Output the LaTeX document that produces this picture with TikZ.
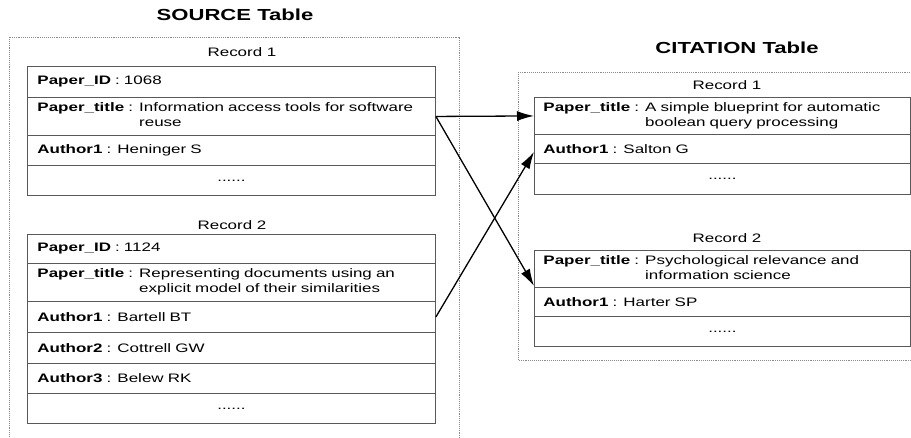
\documentclass[tikz,border=0pt]{standalone}
\usepackage{fontspec}
\setmainfont[FakeStretch=1.38]{Liberation Sans}
\usetikzlibrary{arrows.meta}
\tikzset{
 outerbox/.style={draw=black!45, densely dotted, line width=0.9pt},
 rowbox/.style={draw=black!65, line width=0.9pt, anchor=north west, inner xsep=10pt, inner ysep=0pt, align=left, font=\fontsize{12.3}{15}\selectfont},
 srow/.style={rowbox, text width=388pt},
 crow/.style={rowbox, inner xsep=9pt, text width=358pt},
 lbl/.style={font=\fontsize{12.3}{15}\selectfont},
 ttl/.style={font=\fontsize{16}{19}\selectfont\bfseries},
 link/.style={-{Latex[length=17pt,width=10pt]}, line width=1.3pt}
}
\newcommand{\twoline}[2]{\begin{tabular}[t]{@{}l@{}}#1\\#2\end{tabular}}
\begin{document}
\begin{tikzpicture}[x=1pt,y=-1pt]
\useasboundingbox (0,0) rectangle (911,437);
\clip (0,0) rectangle (911,437);
\fill[white] (0,0) rectangle (911,437);
% titles
\node[ttl] (srctitle) at (235,15) {SOURCE Table};
\node[ttl] (cittitle) at (737,48) {CITATION Table};
% outer boxes
\draw[outerbox] (9,37) rectangle (459,460);
\draw[outerbox] (518,72) rectangle (940,360);
% source record 1
\node[lbl] (sr1) at (242,52) {Record 1};
\node[srow, minimum height=31pt] (s1id) at (27,66) {\textbf{Paper\_ID} : 1068};
\node[srow, minimum height=38pt] (s1title) at (27,97) {\textbf{Paper\_title} : \twoline{Information access tools for software}{reuse}};
\node[srow, minimum height=30pt] (s1a1) at (27,135) {\textbf{Author1} : Heninger S};
\node[srow, minimum height=30pt, align=center] (s1more) at (27,165) {......};
% source record 2
\node[lbl] (sr2) at (232,225) {Record 2};
\node[srow, minimum height=29pt] (s2id) at (27,234) {\textbf{Paper\_ID} : 1124};
\node[srow, minimum height=38pt] (s2title) at (27,263) {\textbf{Paper\_title} : \twoline{Representing documents using an}{explicit model of their similarities}};
\node[srow, minimum height=31pt] (s2a1) at (27,301) {\textbf{Author1} : Bartell BT};
\node[srow, minimum height=31pt] (s2a2) at (27,332) {\textbf{Author2} : Cottrell GW};
\node[srow, minimum height=30pt] (s2a3) at (27,363) {\textbf{Author3} : Belew RK};
\node[srow, minimum height=30pt, align=center] (s2more) at (27,393) {......};
% citation record 1
\node[lbl] (cr1) at (727,85) {Record 1};
\node[crow, minimum height=37pt] (c1title) at (534,97) {\textbf{Paper\_title} : \twoline{A simple blueprint for automatic}{boolean query processing}};
\node[crow, minimum height=29pt] (c1a1) at (534,134) {\textbf{Author1} : Salton G};
\node[crow, minimum height=31pt, align=center] (c1more) at (534,163) {......};
% citation record 2
\node[lbl] (cr2) at (727,238) {Record 2};
\node[crow, minimum height=37pt] (c2title) at (534,250) {\textbf{Paper\_title} : \twoline{Psychological relevance and}{information science}};
\node[crow, minimum height=29pt] (c2a1) at (534,287) {\textbf{Author1} : Harter SP};
\node[crow, minimum height=30pt, align=center] (c2more) at (534,316) {......};
% links
\draw[link] (s1title.east) -- (c1title.west);
\draw[link] (s1title.east) -- ([yshift=2pt]c2title.south west);
\draw[link] (s2a1.east) -- ([yshift=-3pt]c1a1.west);
\end{tikzpicture}
\end{document}
